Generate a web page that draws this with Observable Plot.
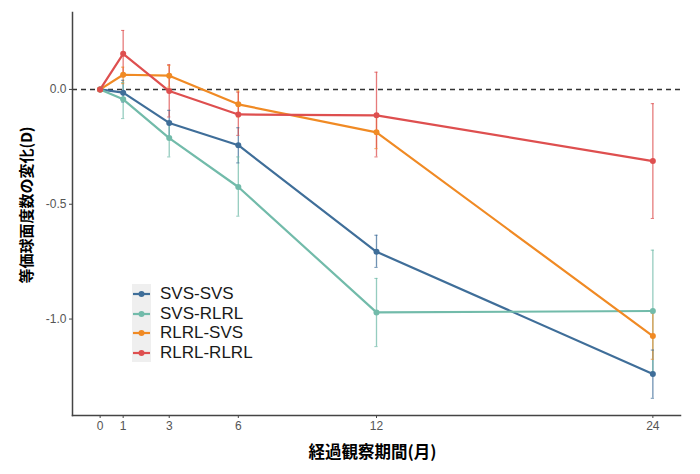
<!DOCTYPE html>
<html><head><meta charset="utf-8">
<script src="https://cdn.jsdelivr.net/npm/d3@7"></script>
<script src="https://cdn.jsdelivr.net/npm/@observablehq/plot@0.6"></script>
<style>
body{margin:0;background:#fff}
#wrap{position:relative;width:700px;height:474px}
#legend{position:absolute;left:132px;top:284px;font-family:"Liberation Sans",Arial,sans-serif;font-size:17px;color:#1a1a1a}
#legend .row{position:relative;height:19.5px;line-height:19.5px}
#legend .key{position:absolute;left:0;top:0;width:19px;height:19.5px;background:#EFEFEF}
#legend .lab{position:absolute;left:28px;top:0;white-space:nowrap}
</style>
</head><body><div id="wrap"></div>
<script>
const months = [0, 1, 3, 6, 12, 24];
const seriesNames = ["SVS-SVS", "SVS-RLRL", "RLRL-SVS", "RLRL-RLRL"];
const seriesColors = ["#3F6E99", "#72BBAA", "#F08A24", "#DE4F4F"];

const svsSvsMean = [0, -0.014, -0.146, -0.243, -0.707, -1.239];
const svsSvsLow  = [0, -0.055, -0.207, -0.320, -0.775, -1.345];
const svsSvsHigh = [0,  0.040, -0.091, -0.167, -0.635, -1.135];

const svsRlrlMean = [0, -0.043, -0.212, -0.425, -0.971, -0.965];
const svsRlrlLow  = [0, -0.127, -0.294, -0.552, -1.120, -1.230];
const svsRlrlHigh = [0,  0.030, -0.142, -0.294, -0.823, -0.700];

const rlrlSvsMean = [0, 0.064, 0.060, -0.065, -0.187, -1.074];
const rlrlSvsLow  = [0, 0.025, 0.010, -0.120, -0.258, -1.175];
const rlrlSvsHigh = [0, 0.097, 0.104, -0.007, -0.113, -0.975];

const rlrlRlrlMean = [0, 0.155, -0.007, -0.109, -0.113, -0.312];
const rlrlRlrlLow  = [0, 0.055, -0.120, -0.200, -0.294, -0.562];
const rlrlRlrlHigh = [0, 0.257,  0.108, -0.012,  0.075, -0.062];

const yTicks = [0, -0.5, -1.0];
const yTickLabels = ["0.0", "-0.5", "-1.0"];
const xTitle = "経過観察期間(月)";
const yTitle = "等価球面度数の変化(D)";

const seriesData = [
  [svsSvsMean, svsSvsLow, svsSvsHigh],
  [svsRlrlMean, svsRlrlLow, svsRlrlHigh],
  [rlrlSvsMean, rlrlSvsLow, rlrlSvsHigh],
  [rlrlRlrlMean, rlrlRlrlLow, rlrlRlrlHigh]
];
const rows = [];
seriesNames.forEach((name, i) => {
  months.forEach((m, j) => {
    rows.push({group: name, month: m, mean: seriesData[i][0][j], low: seriesData[i][1][j], high: seriesData[i][2][j]});
  });
});
const errRows = rows.filter(d => d.month > 0);
const capHalf = 0.07;

const font = '"Liberation Sans", Arial, sans-serif';
const cjk = '"Noto Sans CJK JP", sans-serif';

const chart = Plot.plot({
  width: 700, height: 474,
  marginLeft: 72, marginRight: 20, marginTop: 12, marginBottom: 59,
  style: {fontFamily: font, background: "#fff"},
  x: {type: "linear", domain: [-1.2, 25.2]},
  y: {type: "linear", domain: [-1.42, 0.335]},
  color: {domain: seriesNames, range: seriesColors},
  marks: [
    Plot.ruleY([0], {stroke: "#333", strokeWidth: 1.5, strokeDasharray: "5,4"}),
    Plot.ruleX(errRows, {x: "month", y1: "low", y2: "high", stroke: "group", strokeWidth: 1.3, strokeOpacity: 0.75}),
    Plot.ruleY(errRows, {y: "low", x1: d => d.month - capHalf, x2: d => d.month + capHalf, stroke: "group", strokeWidth: 1, strokeOpacity: 0.75}),
    Plot.ruleY(errRows, {y: "high", x1: d => d.month - capHalf, x2: d => d.month + capHalf, stroke: "group", strokeWidth: 1, strokeOpacity: 0.75}),
    Plot.line(rows, {x: "month", y: "mean", z: "group", stroke: "group", strokeWidth: 2.2}),
    Plot.dot(rows, {x: "month", y: "mean", fill: "group", r: 3}),
    Plot.axisX(months, {tickSize: 3, tickPadding: 3, fontSize: 12, color: "#555", stroke: "#444", label: null}),
    Plot.axisY(yTicks, {tickSize: 3, tickPadding: 3, fontSize: 12, color: "#555", stroke: "#444", label: null, tickFormat: (d, i) => yTickLabels[i]}),
    Plot.frame({anchor: "left", stroke: "#444", strokeWidth: 1.5}),
    Plot.frame({anchor: "bottom", stroke: "#444", strokeWidth: 1.5}),
    Plot.text([xTitle], {frameAnchor: "bottom", dy: 42, dx: -4, fontSize: 16.5, fontWeight: "bold", fontFamily: cjk, fill: "#000"}),
    Plot.text([yTitle], {frameAnchor: "left", textAnchor: "middle", dx: -45, dy: -9, rotate: -90, fontSize: 15, fontWeight: "bold", fontFamily: cjk, fill: "#000"})
  ]
});
document.getElementById("wrap").appendChild(chart);

const legend = document.createElement("div");
legend.id = "legend";
seriesNames.forEach((name, i) => {
  const row = document.createElement("div");
  row.className = "row";
  row.innerHTML = `<div class="key"><svg width="19" height="19.5"><line x1="1" x2="18" y1="10" y2="10" stroke="${seriesColors[i]}" stroke-width="2.2"/><circle cx="9.5" cy="10" r="3" fill="${seriesColors[i]}"/></svg></div><div class="lab">${name}</div>`;
  legend.appendChild(row);
});
document.getElementById("wrap").appendChild(legend);
</script>
</body></html>
